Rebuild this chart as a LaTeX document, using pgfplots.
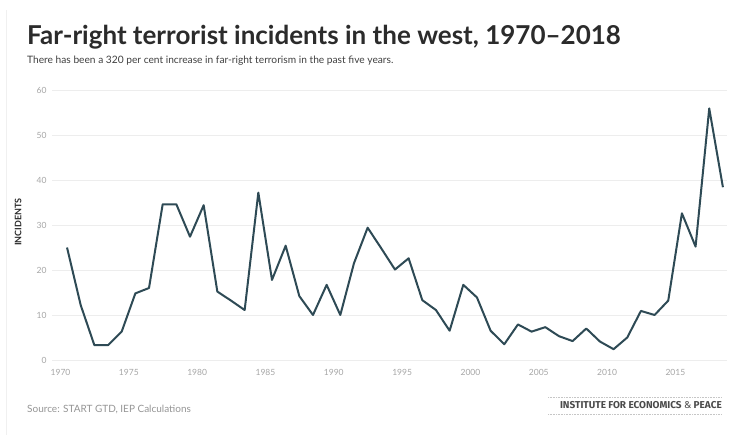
\documentclass[border=0pt]{standalone}
\usepackage{pgfplots}
\pgfplotsset{compat=1.18}
\usepackage{fontspec}
\setmainfont{Lato}
\newfontfamily\logofont{Fira Sans}
\definecolor{linec}{HTML}{2E4A55}
\definecolor{titlec}{HTML}{2B2B2B}
\definecolor{tickc}{HTML}{A6A6A6}
\definecolor{gridc}{HTML}{EDEDED}
\begin{document}
\begin{tikzpicture}
\useasboundingbox[fill=white] (0,0) rectangle (731pt,435pt);
\draw[gray!12, line width=0.8pt] (6pt,0) -- (6pt,425pt);
\node[anchor=base west, inner sep=0pt, text=titlec] at (27pt,390pt)
  {\fontsize{26}{30}\selectfont\bfseries Far-right terrorist incidents in the west, 1970--2018};
\node[anchor=base west, inner sep=0pt, text=titlec!90] at (27pt,371pt)
  {\fontsize{10.2}{12}\selectfont There has been a 320 per cent increase in far-right terrorism in the past five years.};
\node[rotate=90, inner sep=0pt, text=titlec] at (18pt,213pt)
  {\fontsize{9}{11}\selectfont\bfseries INCIDENTS};
\begin{axis}[
  at={(52pt,75pt)}, anchor=south west,
  scale only axis, width=675pt, height=270pt,
  xmin=1968.9, xmax=2018.3, ymin=0, ymax=60,
  axis line style={draw=none},
  tick style={draw=none},
  ymajorgrids, grid style={gridc, line width=0.8pt},
  xtick={1970,1975,...,2015}, ytick={0,10,...,60},
  /pgf/number format/1000 sep={},
  /pgf/number format/assume math mode=true,
  ticklabel style={font=\fontsize{8.5}{10}\selectfont, text=tickc},
  xticklabel style={xshift=-6.5pt, yshift=-6pt},
  yticklabel style={xshift=-2pt},
  clip=false,
]
\addplot[linec, line width=2pt, line join=round] coordinates {
(1970,25.0) (1971,12.2) (1972,3.3) (1973,3.3) (1974,6.3) (1975,14.8)
(1976,16.0) (1977,34.6) (1978,34.6) (1979,27.4) (1980,34.4) (1981,15.2)
(1982,13.2) (1983,11.1) (1984,37.2) (1985,17.8) (1986,25.4) (1987,14.2)
(1988,10.0) (1989,16.7) (1990,10.0) (1991,21.5) (1992,29.4) (1993,24.8)
(1994,20.1) (1995,22.6) (1996,13.3) (1997,11.1) (1998,6.5) (1999,16.7)
(2000,13.9) (2001,6.5) (2002,3.5) (2003,7.9) (2004,6.3) (2005,7.3)
(2006,5.3) (2007,4.2) (2008,7.0) (2009,4.1) (2010,2.4) (2011,5.0)
(2012,10.9) (2013,10.0) (2014,13.2) (2015,32.6) (2016,25.2) (2017,55.9)
(2018,38.4)
};
\end{axis}
\node[anchor=base west, inner sep=0pt, text=tickc!90!black] at (27pt,22pt)
  {\fontsize{10}{12}\selectfont Source: START GTD, IEP Calculations};
\draw[gray!45, line width=0.6pt, dash pattern=on 1pt off 0.6pt] (548pt,38pt) -- (722pt,38pt);
\draw[gray!45, line width=0.6pt, dash pattern=on 1pt off 0.6pt] (548pt,21pt) -- (722pt,21pt);
\node[anchor=base east, inner sep=0pt, text=titlec!85] at (722pt,26pt)
  {\logofont\fontsize{10}{12}\selectfont\bfseries INSTITUTE FOR ECONOMICS {\mdseries\&} PEACE};
\end{tikzpicture}
\end{document}
